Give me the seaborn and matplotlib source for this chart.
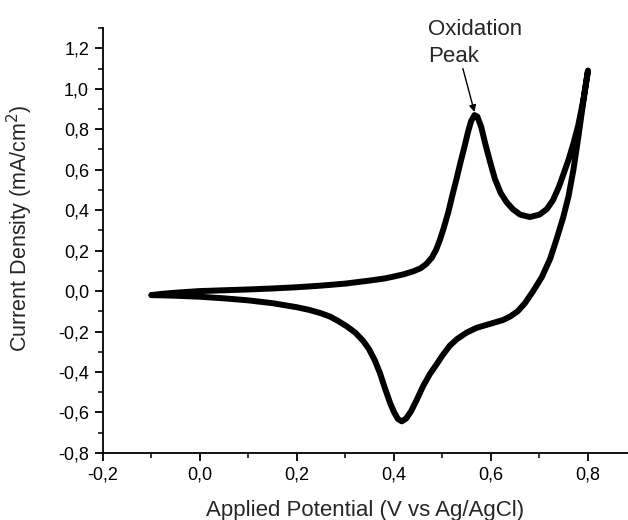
import numpy as np
import pandas as pd
import seaborn as sns
import matplotlib
matplotlib.use("Agg")
import matplotlib.pyplot as plt
from matplotlib.ticker import MultipleLocator, FuncFormatter

# Cyclic voltammogram: anodic (forward) scan then cathodic (reverse) scan
forward_potential = [-0.10, -0.08, -0.05, 0.00, 0.05, 0.10, 0.15, 0.20, 0.25, 0.30,
                     0.35, 0.38, 0.40, 0.42, 0.44, 0.455, 0.467, 0.478, 0.487, 0.495,
                     0.503, 0.512, 0.520, 0.529, 0.537, 0.546, 0.553, 0.559, 0.566, 0.572,
                     0.580, 0.588, 0.598, 0.608, 0.620, 0.632, 0.645, 0.660, 0.680, 0.700,
                     0.715, 0.728, 0.740, 0.749, 0.760, 0.770, 0.780, 0.790, 0.800]
forward_current = [-0.020, -0.014, -0.008, 0.000, 0.004, 0.008, 0.013, 0.019, 0.027, 0.037,
                   0.052, 0.062, 0.072, 0.083, 0.098, 0.113, 0.135, 0.165, 0.205, 0.255,
                   0.315, 0.390, 0.470, 0.555, 0.635, 0.720, 0.790, 0.840, 0.870, 0.862,
                   0.810, 0.730, 0.640, 0.555, 0.485, 0.440, 0.405, 0.378, 0.366, 0.378,
                   0.405, 0.450, 0.515, 0.575, 0.650, 0.730, 0.820, 0.940, 1.090]

reverse_potential = [0.800, 0.790, 0.780, 0.770, 0.760, 0.749, 0.735, 0.722, 0.705, 0.687,
                     0.670, 0.655, 0.640, 0.625, 0.608, 0.591, 0.570, 0.550, 0.530, 0.515,
                     0.500, 0.487, 0.474, 0.460, 0.447, 0.435, 0.425, 0.416, 0.408, 0.400,
                     0.392, 0.381, 0.371, 0.360, 0.348, 0.336, 0.320, 0.303, 0.285, 0.268,
                     0.250, 0.225, 0.200, 0.150, 0.100, 0.050, 0.000, -0.050, -0.080, -0.100]
reverse_current = [1.090, 0.930, 0.760, 0.600, 0.470, 0.365, 0.255, 0.160, 0.070, 0.000,
                   -0.060, -0.100, -0.125, -0.143, -0.155, -0.167, -0.182, -0.205, -0.237, -0.270,
                   -0.318, -0.365, -0.410, -0.470, -0.537, -0.595, -0.630, -0.644, -0.632, -0.598,
                   -0.553, -0.478, -0.405, -0.340, -0.285, -0.245, -0.205, -0.175, -0.148, -0.126,
                   -0.110, -0.093, -0.080, -0.060, -0.046, -0.036, -0.028, -0.023, -0.021, -0.020]

peak_potential = 0.566
peak_current = 0.870

df = pd.DataFrame({
    "potential": forward_potential + reverse_potential,
    "current": forward_current + reverse_current,
})

sns.set_theme(style="ticks")
plt.rcParams["font.family"] = ["Liberation Sans", "DejaVu Sans"]

fig = plt.figure(figsize=(6.28, 5.2), dpi=100)
ax = fig.add_axes([0.164, 0.129, 0.836, 0.817])

sns.lineplot(data=df, x="potential", y="current", sort=False, estimator=None,
             color="black", linewidth=4.3, ax=ax, solid_capstyle="round",
             solid_joinstyle="round")

ax.set_xlim(-0.2, 0.8825)
ax.set_ylim(-0.8, 1.3)
ax.xaxis.set_major_locator(MultipleLocator(0.2))
ax.xaxis.set_minor_locator(MultipleLocator(0.1))
ax.yaxis.set_major_locator(MultipleLocator(0.2))
ax.yaxis.set_minor_locator(MultipleLocator(0.1))

comma = FuncFormatter(lambda v, p: f"{v:.1f}".replace(".", ",").replace("-0,0", "0,0"))
ax.xaxis.set_major_formatter(comma)
ax.yaxis.set_major_formatter(comma)

for side in ("top", "right"):
    ax.spines[side].set_visible(False)
for side in ("left", "bottom"):
    ax.spines[side].set_linewidth(1.3)
    ax.spines[side].set_color("black")

ax.tick_params(which="major", direction="out", length=6, width=1.3, colors="black",
               labelsize=13, pad=4)
ax.tick_params(which="minor", direction="out", length=3.5, width=1.1, colors="black")

ax.set_xlabel("Applied Potential (V vs Ag/AgCl)", fontsize=16, labelpad=12)
ax.set_ylabel("Current Density (mA/cm$^2$)", fontsize=15.5)
ax.yaxis.set_label_coords(-0.13, 0.53)

ax.text(0.470, 1.345, "Oxidation\nPeak", fontsize=16, ha="left", va="top",
        linespacing=1.4, clip_on=False)
ax.annotate("", xy=(peak_potential, peak_current + 0.015), xytext=(0.542, 1.10),
            annotation_clip=False,
            arrowprops=dict(arrowstyle="-|>", color="black", lw=1.0,
                            mutation_scale=10, shrinkA=0, shrinkB=0))

fig.savefig("out.png", dpi=100)
